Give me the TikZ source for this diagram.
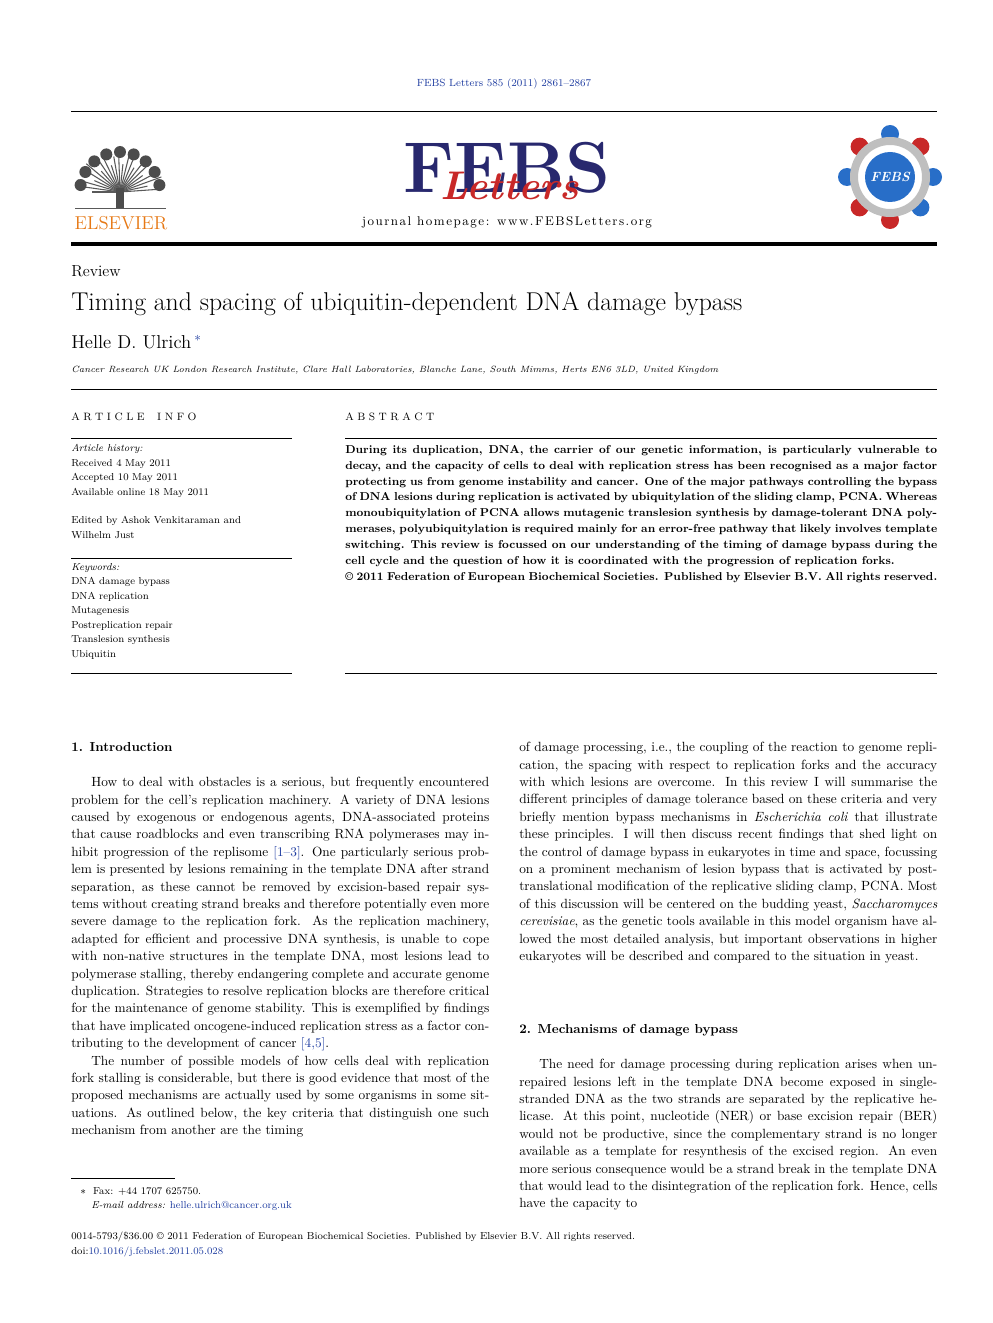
\documentclass[tikz,border=0pt]{standalone}
\usepackage{fontspec}
\newfontfamily\spacedfont[LetterSpace=12]{Latin Modern Roman}
\usetikzlibrary{positioning,calc}
\definecolor{febsblue}{RGB}{40,40,110}
\definecolor{febsred}{RGB}{200,40,40}
\definecolor{linkblue}{RGB}{30,60,160}
\definecolor{elsorange}{RGB}{230,120,20}
\definecolor{dotblue}{RGB}{40,110,200}
\tikzset{
  body/.style={anchor=north west,inner sep=0pt,text width=313.5pt,align=justify,font=\fontsize{10}{13.05}\selectfont},
  info/.style={anchor=north west,inner sep=0pt,align=left,font=\fontsize{7.6}{10.9}\selectfont},
  head/.style={anchor=north west,inner sep=0pt,font=\fontsize{9.8}{12}\selectfont\bfseries},
  rule/.style={line width=0.4pt},
  spaced/.style={anchor=north west,inner sep=0pt,font=\fontsize{8}{10}\selectfont}
}
\newcommand{\lnk}[1]{\textcolor{linkblue}{#1}}
\begin{document}
\begin{tikzpicture}[x=0.75pt,y=-0.75pt]
  \useasboundingbox (0,0) rectangle (992,1323);
  % journal line
  \node[inner sep=0pt,font=\fontsize{7.8}{9}\selectfont,text=linkblue] (jref) at (504,84) {FEBS Letters 585 (2011) 2861--2867};
  \draw[rule] (71,111) -- (937,111);
  % elsevier logo
  \foreach \a in {0,8,...,180}
    \draw[gray!70!black,line width=0.8pt] (120,192) -- ++({180+\a}:{28+mod(\a,24)});
  \foreach \a in {10,30,...,170}
    \fill[gray!60!black] ($(120,192)+({180+\a}:40)$) circle (6);
  \fill[gray!60!black] (116,188) rectangle (124,208);
  \draw[gray!70!black] (75,208) -- (166,208);
  \node[inner sep=0pt,font=\fontsize{14}{14}\selectfont,text=elsorange] (els) at (121,223) {ELSEVIER};
  % febs letters logo
  \node[inner sep=0pt,font=\fontsize{54}{54}\selectfont\bfseries,text=febsblue] (febs) at (507,168) {FEBS};
  \node[inner sep=0pt,font=\fontsize{30}{30}\selectfont\bfseries\itshape,text=febsred] (letters) at (510,186) {Letters};
  \node[inner sep=0pt,font=\fontsize{9.5}{11}\selectfont] (home) at (507,222) {\spacedfont journal homepage: www.FEBSLetters.org};
  % febs society logo
  \foreach \a/\c in {90/febsred,45/dotblue,0/dotblue,-45/febsred,-90/dotblue,-135/febsred,180/dotblue,135/febsred}
    \fill[\c] ($(890,177)+(\a:43)$) circle (9);
  \draw[gray!50,line width=6pt] (890,177) circle (36);
  \fill[dotblue] (890,177) circle (25);
  \node[inner sep=0pt,font=\fontsize{10}{10}\selectfont\bfseries\itshape,text=white] (soc) at (890,177) {FEBS};
  \draw[line width=3pt] (71,244) -- (937,244);
  % title block
  \node[anchor=north west,inner sep=0pt,font=\fontsize{12}{14}\selectfont] (rev) at (71,265) {Review};
  \node[anchor=north west,inner sep=0pt,font=\fontsize{19.3}{22}\selectfont] (title) at (71,292) {Timing and spacing of ubiquitin-dependent DNA damage bypass};
  \node[anchor=north west,inner sep=0pt,font=\fontsize{14}{16}\selectfont] (auth) at (71,335) {Helle D. Ulrich\,\textcolor{linkblue}{$^{*}$}};
  \node[anchor=north west,inner sep=0pt,font=\fontsize{6.8}{9}\selectfont\itshape] (aff) at (71,366) {Cancer Research UK London Research Institute, Clare Hall Laboratories, Blanche Lane, South Mimms, Herts EN6 3LD, United Kingdom};
  \draw[rule] (71,389) -- (937,389);
  % article info
  \node[spaced] (aih) at (71,413) {A\,\,R\,\,T\,\,I\,\,C\,\,L\,\,E\quad\,I\,\,N\,\,F\,\,O};
  \draw[rule] (71,438) -- (292,438);
  \node[info] (hist) at (71,444) {\textit{Article history:}\\Received 4 May 2011\\Accepted 10 May 2011\\Available online 18 May 2011};
  \node[info] (edit) at (71,516) {Edited by Ashok Venkitaraman and\\Wilhelm Just};
  \draw[rule] (71,558) -- (292,558);
  \node[info] (kw) at (71,563) {\textit{Keywords:}\\DNA damage bypass\\DNA replication\\Mutagenesis\\Postreplication repair\\Translesion synthesis\\Ubiquitin};
  \draw[rule] (71,673) -- (292,673);
  % abstract
  \node[spaced] (abh) at (345,413) {A\,\,B\,\,S\,\,T\,\,R\,\,A\,\,C\,\,T};
  \draw[rule] (345,438) -- (937,438);
  \node[anchor=north west,inner sep=0pt,text width=444pt,align=justify,font=\fontsize{8.6}{11.9}\selectfont\bfseries] (abs) at (345,445) {During its duplication, DNA, the carrier of our genetic information, is particularly vulnerable to decay, and the capacity of cells to deal with replication stress has been recognised as a major factor protecting us from genome instability and cancer. One of the major pathways controlling the bypass of DNA lesions during replication is activated by ubiquitylation of the sliding clamp, PCNA. Whereas monoubiquitylation of PCNA allows mutagenic translesion synthesis by damage-tolerant DNA polymerases, polyubiquitylation is required mainly for an error-free pathway that likely involves template switching. This review is focussed on our understanding of the timing of damage bypass during the cell cycle and the question of how it is coordinated with the progression of replication forks.\\\copyright\ 2011 Federation of European Biochemical Societies. Published by Elsevier B.V. All rights reserved.};
  \draw[rule] (345,673) -- (937,673);
  % left column
  \node[head] (h1) at (71,742) {1. Introduction};
  \node[body] (c1) at (71,777) {\hspace*{1.5em}How to deal with obstacles is a serious, but frequently encountered problem for the cell's replication machinery. A variety of DNA lesions caused by exogenous or endogenous agents, DNA-associated proteins that cause roadblocks and even transcribing RNA polymerases may inhibit progression of the replisome \lnk{[1--3]}. One particularly serious problem is presented by lesions remaining in the template DNA after strand separation, as these cannot be removed by excision-based repair systems without creating strand breaks and therefore potentially even more severe damage to the replication fork. As the replication machinery, adapted for efficient and processive DNA synthesis, is unable to cope with non-native structures in the template DNA, most lesions lead to polymerase stalling, thereby endangering complete and accurate genome duplication. Strategies to resolve replication blocks are therefore critical for the maintenance of genome stability. This is exemplified by findings that have implicated oncogene-induced replication stress as a factor contributing to the development of cancer \lnk{[4,5]}.\\\hspace*{1.5em}The number of possible models of how cells deal with replication fork stalling is considerable, but there is good evidence that most of the proposed mechanisms are actually used by some organisms in some situations. As outlined below, the key criteria that distinguish one such mechanism from another are the timing};
  \draw[rule] (71,1178) -- (175,1178);
  \node[info] (fn) at (80,1187) {$*$\ \ Fax: +44 1707 625750.\\\hspace*{1.1em}\textit{E-mail address:} \lnk{helle.ulrich@cancer.org.uk}};
  % right column
  \node[body] (c2) at (519,742) {of damage processing, i.e., the coupling of the reaction to genome replication, the spacing with respect to replication forks and the accuracy with which lesions are overcome. In this review I will summarise the different principles of damage tolerance based on these criteria and very briefly mention bypass mechanisms in \textit{Escherichia coli} that illustrate these principles. I will then discuss recent findings that shed light on the control of damage bypass in eukaryotes in time and space, focussing on a prominent mechanism of lesion bypass that is activated by posttranslational modification of the replicative sliding clamp, PCNA. Most of this discussion will be centered on the budding yeast, \textit{Saccharomyces cerevisiae}, as the genetic tools available in this model organism have allowed the most detailed analysis, but important observations in higher eukaryotes will be described and compared to the situation in yeast.};
  \node[head] (h2) at (519,1024) {2. Mechanisms of damage bypass};
  \node[body] (c3) at (519,1059) {\hspace*{1.5em}The need for damage processing during replication arises when unrepaired lesions left in the template DNA become exposed in single-stranded DNA as the two strands are separated by the replicative helicase. At this point, nucleotide (NER) or base excision repair (BER) would not be productive, since the complementary strand is no longer available as a template for resynthesis of the excised region. An even more serious consequence would be a strand break in the template DNA that would lead to the disintegration of the replication fork. Hence, cells have the capacity to};
  % bottom
  \node[info] (foot) at (71,1232) {0014-5793/\$36.00 \copyright\ 2011 Federation of European Biochemical Societies. Published by Elsevier B.V. All rights reserved.\\doi:\lnk{10.1016/j.febslet.2011.05.028}};
\end{tikzpicture}
\end{document}
